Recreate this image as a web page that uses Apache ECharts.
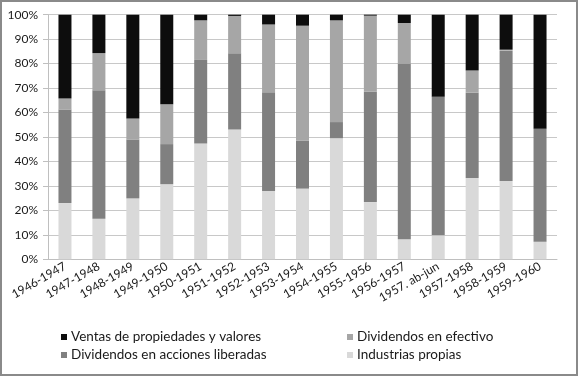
<!DOCTYPE html>
<html>
<head>
<meta charset="utf-8">
<script src="https://cdn.jsdelivr.net/npm/echarts@6/dist/echarts.min.js"></script>
<style>
html,body{margin:0;padding:0;background:#fff;}
#c{width:580px;height:377px;}
</style>
</head>
<body>
<div id="c"></div>
<script>
const categories = ['1946-1947','1947-1948','1948-1949','1949-1950','1950-1951','1951-1952','1952-1953','1953-1954','1954-1955','1955-1956','1956-1957','1957. ab-jun','1957-1958','1958-1959','1959-1960'];
const industriasPropias = [23.0,16.6,24.9,30.7,47.3,53.1,27.9,28.9,49.5,23.4,8.2,9.8,33.2,32.0,7.2];
const dividendosAcciones = [38.2,52.5,24.1,16.4,34.2,31.1,40.4,19.6,6.6,45.1,71.9,56.7,34.9,53.3,46.2];
const dividendosEfectivo = [4.5,15.2,8.6,16.3,16.2,15.3,27.7,47.0,41.6,31.1,16.5,0,9.1,0.4,0];
const ventasPropiedades = [34.3,15.7,42.4,36.6,2.3,0.5,4.0,4.5,2.3,0.4,3.4,33.5,22.8,14.3,46.6];
const yTicks = [0,10,20,30,40,50,60,70,80,90,100];

const font = 'Lato, "Open Sans", sans-serif';
const chart = echarts.init(document.getElementById('c'));
function bar(name, data, color){
  return {name, type:'bar', stack:'t', data, barWidth:13, itemStyle:{color}, emphasis:{disabled:true}};
}
chart.setOption({
  animation:false,
  backgroundColor:'#fff',
  grid:{left:48, right:23, top:14.7, bottom:117.7},
  graphic:[{type:'rect', shape:{x:1,y:1,width:576,height:374}, style:{fill:'none', stroke:'#8a8a8a', lineWidth:2}, silent:true}],
  legend:[
    {data:['Ventas de propiedades y valores','Dividendos en acciones liberadas'], orient:'vertical', left:56, top:325, itemWidth:6, itemHeight:6, itemGap:4, icon:'rect',
     textStyle:{fontFamily:font, fontSize:13.5, color:'#1a1a1a', padding:[0,0,0,-1]}},
    {data:['Dividendos en efectivo','Industrias propias'], orient:'vertical', left:342, top:325, itemWidth:6, itemHeight:6, itemGap:4, icon:'rect',
     textStyle:{fontFamily:font, fontSize:13.5, color:'#1a1a1a', padding:[0,0,0,-1]}}
  ],
  xAxis:{type:'category', data:categories,
    axisLine:{lineStyle:{color:'#bfbfbf'}},
    axisTick:{length:5, lineStyle:{color:'#bfbfbf'}},
    axisLabel:{rotate:30, margin:6, interval:0, fontFamily:font, fontSize:12, color:'#1a1a1a'}},
  yAxis:{type:'value', min:yTicks[0], max:yTicks[yTicks.length-1], interval:10,
    axisLine:{show:true, lineStyle:{color:'#bfbfbf'}},
    axisTick:{show:true, length:5, lineStyle:{color:'#bfbfbf'}},
    splitLine:{lineStyle:{color:'#c8c8c8'}},
    axisLabel:{formatter:'{value}%', margin:10, fontFamily:font, fontSize:12, color:'#1a1a1a'}},
  series:[
    bar('Industrias propias', industriasPropias, '#d9d9d9'),
    bar('Dividendos en acciones liberadas', dividendosAcciones, '#808080'),
    bar('Dividendos en efectivo', dividendosEfectivo, '#a6a6a6'),
    bar('Ventas de propiedades y valores', ventasPropiedades, '#0d0d0d')
  ]
});
</script>
</body>
</html>
